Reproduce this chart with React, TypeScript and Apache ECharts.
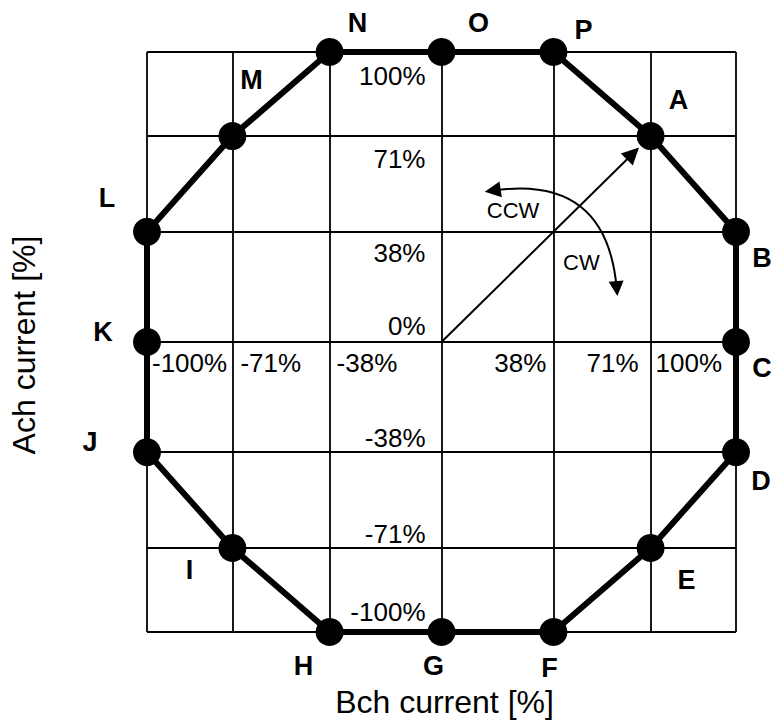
import React, { useEffect, useRef } from 'react';
import * as echarts from 'echarts';

// ---- data ----
const gridTicks = [-100, -71, -38, 0, 38, 71, 100];
const bchTickLabels = [-100, -71, -38, 38, 71, 100];
const achTickLabels = [100, 71, 38, 0, -38, -71, -100];
const stepNames = ['A', 'B', 'C', 'D', 'E', 'F', 'G', 'H', 'I', 'J', 'K', 'L', 'M', 'N', 'O', 'P'];
const bchCurrent = [71, 100, 100, 100, 71, 38, 0, -38, -71, -100, -100, -100, -71, -38, 0, 38];
const achCurrent = [71, 38, 0, -38, -71, -100, -100, -100, -71, -38, 0, 38, 71, 100, 100, 100];
const vectorStart = [0, 0];
const vectorEnd = [65, 65];
const arcCcwEnd = [17.4, 52.2];
const arcCwEnd = [59.5, 18.4];
const rotationLabels = ['CCW', 'CW'];
const rotationLabelPos = [
  [24.3, 45.3],
  [47.5, 27.5],
];

// ---- layout / style ----
const FONT = '"Liberation Sans", Arial, Helvetica, sans-serif';
const STEP_LABEL_OFFSET: Record<string, number[]> = {
  A: [28, -36], B: [26, 26], C: [26, 26], D: [25, 29],
  E: [36, 32], F: [-4, 36], G: [-8, 34], H: [-26, 34],
  I: [-43, 22], J: [-57, -10], K: [-44, -10], L: [-40, -34],
  M: [19, -56], N: [28, -29], O: [37, -29], P: [30, -22],
};
const X_LABEL_DX: Record<number, number> = { [-100]: 5, [-71]: 8, [-38]: 7, 38: -7, 71: -12, 100: -14 };
const Y_LABEL_DY: Record<number, number> = { 100: 24, 71: 23, 38: 21, 0: -16, [-38]: -14, [-71]: -14, [-100]: -20 };

export default function App() {
  const ref = useRef<HTMLDivElement>(null);

  useEffect(() => {
    if (!ref.current) return;
    const chart = echarts.init(ref.current, null, { renderer: 'svg' });

    const stepData: any[] = stepNames.map((n, i) => ({
      name: n,
      value: [bchCurrent[i], achCurrent[i]],
      label: { offset: STEP_LABEL_OFFSET[n] },
    }));
    stepData.push({
      name: '',
      value: [bchCurrent[0], achCurrent[0]],
      symbol: 'none',
      label: { show: false },
    });

    const tickLabelData: any[] = [
      ...bchTickLabels.map((v) => ({
        value: [v, 0],
        name: `${v}%`,
        label: {
          align: v < 0 ? 'left' : 'right',
          offset: [X_LABEL_DX[v], 21],
        },
      })),
      ...achTickLabels.map((v) => ({
        value: [0, v],
        name: `${v}%`,
        label: { align: 'right', offset: [-16, Y_LABEL_DY[v]] },
      })),
    ];

    const textLabel = {
      show: true,
      position: 'inside',
      formatter: '{b}',
      color: '#000',
      opacity: 1,
      textBorderWidth: 0,
      fontFamily: FONT,
      verticalAlign: 'middle',
    };

    const option: any = {
      animation: false,
      backgroundColor: '#fff',
      textStyle: { fontFamily: FONT },
      grid: { left: 146, top: 52, width: 590, height: 580, containLabel: false },
      xAxis: {
        type: 'value',
        min: -100,
        max: 100,
        name: 'Bch current [%]',
        nameLocation: 'middle',
        nameGap: 54,
        nameTextStyle: { fontSize: 32, color: '#000', fontFamily: FONT, padding: [0, 0, 0, 6] },
        axisLine: { show: false, onZero: false },
        axisTick: { show: false },
        axisLabel: { show: false },
        splitLine: { show: false },
      },
      yAxis: {
        type: 'value',
        min: -100,
        max: 100,
        name: 'Ach current [%]',
        nameLocation: 'middle',
        nameGap: 107,
        nameTextStyle: { fontSize: 32, color: '#000', fontFamily: FONT, padding: [0, 6, 0, 0] },
        axisLine: { show: false, onZero: false },
        axisTick: { show: false },
        axisLabel: { show: false },
        splitLine: { show: false },
      },
      series: [
        {
          type: 'scatter',
          name: 'grid',
          z: 1,
          silent: true,
          symbolSize: 1,
          itemStyle: { color: 'rgba(0,0,0,0)', opacity: 1 },
          label: { ...textLabel, fontSize: 26 },
          data: tickLabelData,
          markLine: {
            silent: true,
            symbol: 'none',
            animation: false,
            label: { show: false },
            lineStyle: { color: '#000', width: 1.8, type: 'solid', opacity: 1 },
            emphasis: { disabled: true },
            data: [
              ...gridTicks.map((v) => ({ xAxis: v })),
              ...gridTicks.map((v) => ({ yAxis: v })),
            ],
          },
        },
        {
          type: 'lines',
          coordinateSystem: 'cartesian2d',
          z: 2,
          silent: true,
          symbol: ['none', 'triangle'],
          symbolSize: [18, 17],
          lineStyle: { color: '#000', width: 2, curveness: 0, opacity: 1 },
          data: [{ coords: [vectorStart, vectorEnd] }],
        },
        {
          type: 'lines',
          coordinateSystem: 'cartesian2d',
          z: 2,
          silent: true,
          symbol: ['triangle', 'triangle'],
          symbolSize: [16, 15],
          lineStyle: { color: '#000', width: 2, curveness: 0.53, opacity: 1 },
          data: [{ coords: [arcCcwEnd, arcCwEnd] }],
        },
        {
          type: 'scatter',
          z: 2,
          silent: true,
          symbolSize: 1,
          itemStyle: { color: 'rgba(0,0,0,0)', opacity: 1 },
          label: { ...textLabel, fontSize: 22, align: 'center' },
          data: rotationLabels.map((t, i) => ({ name: t, value: rotationLabelPos[i] })),
        },
        {
          type: 'line',
          z: 3,
          silent: true,
          clip: false,
          symbol: 'circle',
          symbolSize: 28,
          showSymbol: true,
          showAllSymbol: true,
          itemStyle: { color: '#000', opacity: 1 },
          lineStyle: { color: '#000', width: 6 },
          label: { ...textLabel, fontSize: 27, fontWeight: 'bold', align: 'center' },
          data: stepData,
        },
      ],
    };

    chart.setOption(option);
    return () => chart.dispose();
  }, []);

  return (
    <div
      ref={ref}
      style={{ position: 'absolute', left: 0, top: 0, width: 773, height: 726, background: '#fff' }}
    />
  );
}
